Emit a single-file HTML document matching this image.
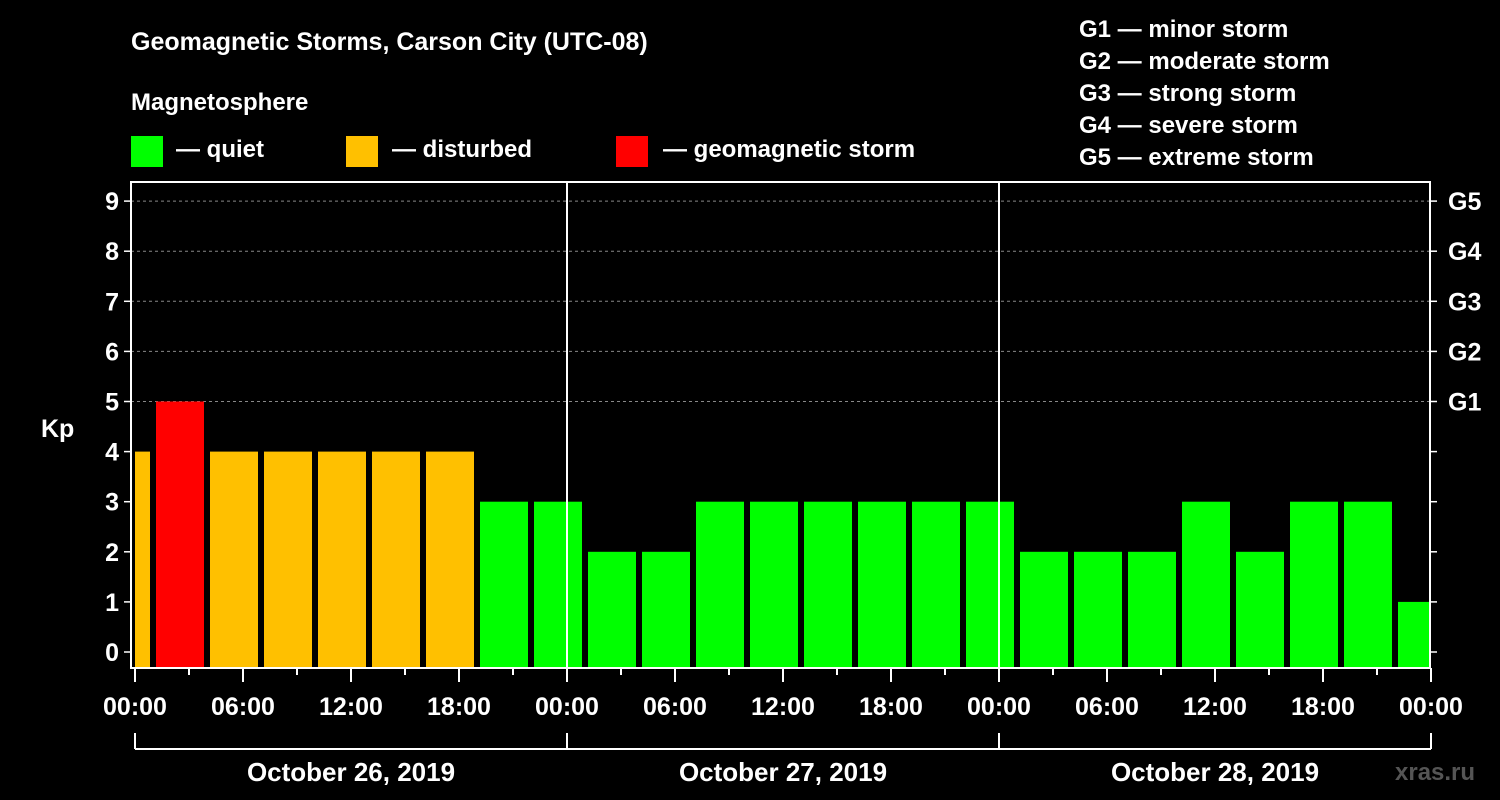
<!DOCTYPE html>
<html><head><meta charset="utf-8"><style>
body{margin:0;background:#000;}
svg{display:block;font-family:"Liberation Sans",Arial,sans-serif;font-weight:bold;}
</style></head><body>
<svg id="chart" width="1500" height="800" viewBox="0 0 1500 800">
<text x="131" y="50" fill="#fff" font-size="25">Geomagnetic Storms, Carson City (UTC-08)</text>
<text x="131" y="110" fill="#fff" font-size="24">Magnetosphere</text>
<rect x="131" y="136" width="32" height="31" fill="#00ff00"/>
<text x="176" y="157" fill="#fff" font-size="24">— quiet</text>
<rect x="346" y="136" width="32" height="31" fill="#ffc000"/>
<text x="392" y="157" fill="#fff" font-size="24">— disturbed</text>
<rect x="616" y="136" width="32" height="31" fill="#ff0000"/>
<text x="663" y="157" fill="#fff" font-size="24">— geomagnetic storm</text>
<g fill="#fff" font-size="24">
<text x="1079" y="37">G1 — minor storm</text>
<text x="1079" y="69">G2 — moderate storm</text>
<text x="1079" y="101">G3 — strong storm</text>
<text x="1079" y="133">G4 — severe storm</text>
<text x="1079" y="165">G5 — extreme storm</text>
</g>
<text x="41" y="437" fill="#fff" font-size="25">Kp</text>
<text x="1395" y="780" fill="#555" font-size="24">xras.ru</text>
<g id="plot"></g>
</svg>
<script>
const kpValues=[4,5,4,4,4,4,4,3,3,2,2,3,3,3,3,3,3,2,2,2,3,2,3,3,1];
const barStartHours=[-2,1,4,7,10,13,16,19,22,25,28,31,34,37,40,43,46,49,52,55,58,61,64,67,70];
const dayLabels=["October 26, 2019","October 27, 2019","October 28, 2019"];
const hourTickLabels=["00:00","06:00","12:00","18:00"];
const gLabels=["G1","G2","G3","G4","G5"];
const NS="http://www.w3.org/2000/svg";
const plot=document.getElementById('plot');
const X0=135,PXH=18,TOTAL=72,L=131,R=1430,T=182,B=668;
const x=h=>X0+h*PXH;
const y=k=>652-k*50.1;
function mk(tag,a){const e=document.createElementNS(NS,tag);for(const k in a)e.setAttribute(k,a[k]);plot.appendChild(e);return e;}
function col(k){return k>=5?"#ff0000":k>=4?"#ffc000":"#00ff00";}
// grid
for(let k=5;k<=9;k++){const g=mk('line',{x1:L,x2:R,y1:y(k),y2:y(k),stroke:'#888','stroke-dasharray':'3,3','stroke-width':1});

}
// bars
kpValues.forEach((v,i)=>{
 let x1=Math.max(x(barStartHours[i])+3,X0),x2=Math.min(x(barStartHours[i]+3)-3,R);
 const r=mk('rect',{x:x1,y:y(v),width:x2-x1,height:B-1-y(v),fill:col(v)});
 
 
});
// day separators
[1,2].forEach(d=>{const l=mk('line',{x1:x(d*24),x2:x(d*24),y1:T,y2:B,stroke:'#fff','stroke-width':2});

});
// frame
const f=mk('rect',{x:L,y:T,width:R-L,height:B-T,fill:'none',stroke:'#fff','stroke-width':2});


// y ticks and labels
for(let k=0;k<=9;k++){
 mk('line',{x1:L-7,x2:L,y1:y(k),y2:y(k),stroke:'#fff','stroke-width':1.5});
 mk('line',{x1:R,x2:R+7,y1:y(k),y2:y(k),stroke:'#fff','stroke-width':1.5});
 const t=mk('text',{x:L-12,y:y(k)+9,fill:'#fff','font-size':25,'text-anchor':'end'});t.textContent=k;
 
 
 if(k>=5){const g=mk('text',{x:R+18,y:y(k)+9,fill:'#fff','font-size':25});g.textContent=gLabels[k-5];
 
 }
}
// x ticks
for(let h=0;h<=TOTAL;h+=3){
 mk('line',{x1:x(h),x2:x(h),y1:B,y2:B+(h%6===0?14:7),stroke:'#fff','stroke-width':2});
}
for(let h=0;h<=TOTAL;h+=6){
 const t=mk('text',{x:x(h),y:715,fill:'#fff','font-size':25,'text-anchor':'middle'});
 t.textContent=hourTickLabels[(h/6)%4];
 
 
}
// day brackets
mk('line',{x1:x(0),x2:x(TOTAL),y1:749,y2:749,stroke:'#fff','stroke-width':2});
for(let d=0;d<=3;d++)mk('line',{x1:x(d*24),x2:x(d*24),y1:733,y2:749,stroke:'#fff','stroke-width':2});
dayLabels.forEach((s,d)=>{const t=mk('text',{x:x(d*24+12),y:781,fill:'#fff','font-size':26,'text-anchor':'middle'});t.textContent=s;

});
</script>
</body></html>
